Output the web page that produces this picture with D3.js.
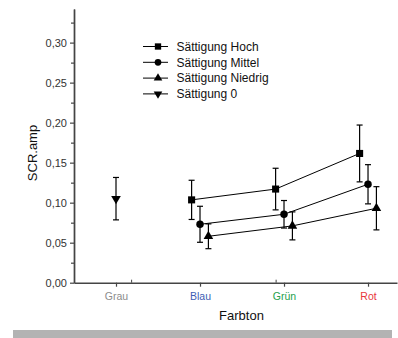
<!DOCTYPE html>
<html>
<head>
<meta charset="utf-8">
<script src="https://cdn.jsdelivr.net/npm/d3@7"></script>
<style>
  body { margin: 0; background: #fff; }
  svg { display: block; font-family: "Liberation Sans", Arial, sans-serif; }
</style>
</head>
<body>
<svg id="chart" width="398" height="338"></svg>
<script>
const categories = ['Grau', 'Blau', 'Grün', 'Rot'];
const categoryColors = ['#8c8c8c', '#3d5db3', '#24a04c', '#e8363c'];
const yTicks = [0, 0.05, 0.10, 0.15, 0.20, 0.25, 0.30];
const xMinorTicks = [0.18, 1.9];

const hochMean = [null, 0.1035, 0.117, 0.1615];
const hochErr = [null, 0.0245, 0.026, 0.0355];
const mittelMean = [null, 0.073, 0.0855, 0.123];
const mittelErr = [null, 0.0225, 0.0172, 0.0245];
const niedrigMean = [null, 0.058, 0.071, 0.093];
const niedrigErr = [null, 0.0155, 0.0175, 0.027];
const nullMean = [0.105, null, null, null];
const nullErr = [0.0265, null, null, null];

const series = [
  {name: 'Sättigung Hoch', mean: hochMean, err: hochErr, symbol: d3.symbolSquare, size: 50, offset: -0.1},
  {name: 'Sättigung Mittel', mean: mittelMean, err: mittelErr, symbol: d3.symbolCircle, size: 44, offset: 0},
  {name: 'Sättigung Niedrig', mean: niedrigMean, err: niedrigErr, symbol: d3.symbolTriangle, size: 40, offset: 0.1},
  {name: 'Sättigung 0', mean: nullMean, err: nullErr, symbol: d3.symbolTriangle, size: 40, offset: 0, down: true}
];

const svg = d3.select('#chart');
const x = d3.scaleLinear().domain([-0.5, 3.345]).range([74, 397]);
const y = d3.scaleLinear().domain([0, 0.342]).range([282.7, 9]);
const axisColor = '#444';
const fmt = v => d3.format('.2f')(v).replace('.', ',');

// y axis, minor ticks first
const yMinor = svg.append('g').attr('transform', 'translate(74,0)')
  .call(d3.axisLeft(y).tickValues(d3.range(0.025, 0.34, 0.05)).tickSize(3).tickSizeOuter(0).tickFormat(''));
const yAxis = svg.append('g').attr('transform', 'translate(74,0)')
  .call(d3.axisLeft(y).tickValues(yTicks).tickSize(4).tickPadding(3).tickSizeOuter(0).tickFormat(fmt));
[yMinor, yAxis].forEach(g => {
  g.select('.domain').attr('stroke', axisColor).attr('stroke-width', 1.4);
  g.selectAll('.tick line').attr('stroke', axisColor).attr('stroke-width', 1.2);
});
yAxis.selectAll('.tick text').attr('font-size', 11).attr('fill', '#333').attr('font-family', '"Liberation Sans", Arial, sans-serif');

// x axis
const xAxis = svg.append('g').attr('transform', 'translate(0,282.7)')
  .call(d3.axisBottom(x).tickValues([0, 1, 2, 3]).tickSize(4).tickPadding(6).tickSizeOuter(0).tickFormat(i => categories[i]));
const xMinor = svg.append('g').attr('transform', 'translate(0,282.7)')
  .call(d3.axisBottom(x).tickValues(xMinorTicks).tickSize(-3).tickSizeOuter(0).tickFormat(''));
xMinor.select('.domain').remove();
xAxis.select('.domain').attr('stroke', axisColor).attr('stroke-width', 1.4);
xAxis.selectAll('.tick line').attr('stroke', axisColor).attr('stroke-width', 1.2);
xMinor.selectAll('.tick line').attr('stroke', axisColor).attr('stroke-width', 1);
xAxis.selectAll('.tick text').attr('font-size', 10.5).attr('font-family', '"Liberation Sans", Arial, sans-serif')
  .attr('fill', (d, i) => categoryColors[i]);

// axis titles
svg.append('text').attr('transform', 'translate(37,153) rotate(-90)').attr('text-anchor', 'middle')
  .attr('font-size', 13).attr('fill', '#111').text('SCR.amp');
svg.append('text').attr('x', 241.5).attr('y', 320).attr('text-anchor', 'middle')
  .attr('font-size', 13).attr('fill', '#111').text('Farbton');

// series
const plot = svg.append('g');
series.forEach(s => {
  const pts = s.mean.map((m, i) => ({i, m, e: s.err[i]})).filter(d => d.m != null);
  plot.append('path')
    .attr('d', d3.line().x(d => x(d.i + s.offset)).y(d => y(d.m))(pts))
    .attr('fill', 'none').attr('stroke', '#000').attr('stroke-width', 1);
  pts.forEach(d => {
    const cx = x(d.i + s.offset);
    const g = plot.append('g').attr('stroke', '#000').attr('stroke-width', 1.2);
    g.append('line').attr('x1', cx).attr('x2', cx).attr('y1', y(d.m - d.e)).attr('y2', y(d.m + d.e));
    g.append('line').attr('x1', cx - 3).attr('x2', cx + 3).attr('y1', y(d.m - d.e)).attr('y2', y(d.m - d.e));
    g.append('line').attr('x1', cx - 3).attr('x2', cx + 3).attr('y1', y(d.m + d.e)).attr('y2', y(d.m + d.e));
  });
  plot.selectAll(null).data(pts).enter().append('path')
    .attr('d', d3.symbol(s.symbol, s.size))
    .attr('transform', d => `translate(${x(d.i + s.offset)},${y(d.m)})` + (s.down ? ' rotate(180)' : ''))
    .attr('fill', '#000');
});

// legend
const legend = svg.append('g').attr('transform', 'translate(143,46.5)');
series.forEach((s, k) => {
  const row = legend.append('g').attr('transform', `translate(0,${k * 15.8})`);
  row.append('line').attr('x1', 0).attr('x2', 25).attr('y1', 0).attr('y2', 0).attr('stroke', '#000').attr('stroke-width', 1);
  row.append('path').attr('d', d3.symbol(s.symbol, s.size * 0.8))
    .attr('transform', 'translate(15,0)' + (s.down ? ' rotate(180)' : '')).attr('fill', '#000');
  row.append('text').attr('x', 33.5).attr('y', 4.3).attr('font-size', 12).attr('fill', '#111').text(s.name);
});

// grey strip at the bottom
svg.append('rect').attr('x', 13).attr('y', 330).attr('width', 379).attr('height', 8).attr('fill', '#b3b3b3');
</script>
</body>
</html>
